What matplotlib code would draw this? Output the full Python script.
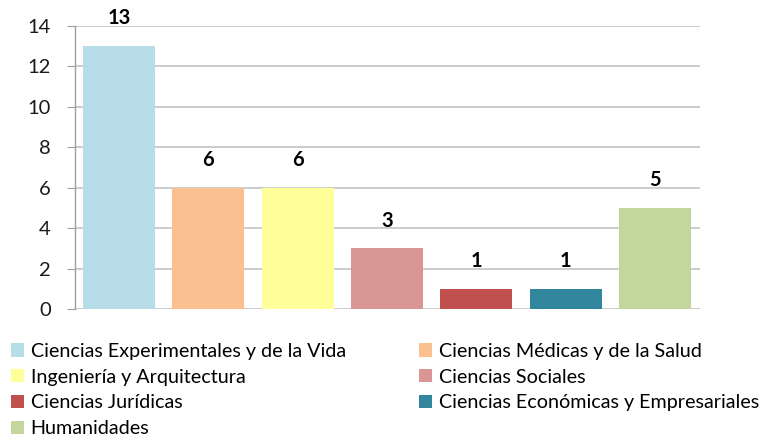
import matplotlib
matplotlib.use("Agg")
import matplotlib.pyplot as plt
from matplotlib.patches import Patch

categories = ["Ciencias Experimentales y de la Vida", "Ciencias Médicas y de la Salud",
              "Ingeniería y Arquitectura", "Ciencias Sociales", "Ciencias Jurídicas",
              "Ciencias Económicas y Empresariales", "Humanidades"]
values = [13, 6, 6, 3, 1, 1, 5]
colors = ["#b7dde8", "#fac090", "#ffff99", "#d99694", "#c0504d", "#31859c", "#c3d69b"]
yticks = [0, 2, 4, 6, 8, 10, 12, 14]

plt.rcParams['font.family'] = ['Lato', 'DejaVu Sans']

W, H = 770, 438
fig = plt.figure(figsize=(W/100, H/100), dpi=100)
ax = fig.add_axes([74.5/W, 1-309/H, 625/W, 283/H])

x = list(range(len(values)))
bars = ax.bar(x, values, width=0.806, color=colors, zorder=3)
ax.set_xlim(-0.5, len(values)-0.5)
ax.set_ylim(0, 14)
ax.set_yticks(yticks)
ax.set_xticks([])
ax.grid(axis='y', color='#cccccc', linewidth=1.4, zorder=0)
for s in ['top', 'right', 'bottom']:
    ax.spines[s].set_visible(False)
ax.spines['left'].set_color('#a0a0a0')
ax.spines['left'].set_linewidth(1.0)
ax.tick_params(axis='y', length=6, color='#a0a0a0', labelsize=14.5, pad=11, labelcolor='#1a1a1a')

for xi, v in zip(x, values):
    ax.annotate(str(v), (xi, v), xytext=(0, 20), textcoords='offset points',
                ha='center', va='center', fontsize=14.5, fontweight='bold', color='black')

handles = [Patch(facecolor=c, edgecolor='none') for c in colors]
col1 = [0, 2, 4, 6]
col2 = [1, 3, 5]
common = dict(frameon=False, fontsize=14.2, handlelength=0.65, handleheight=0.65,
              handletextpad=0.35, labelspacing=0.44, borderaxespad=0, borderpad=0)
fig.legend([handles[i] for i in col1], [categories[i] for i in col1],
           loc='upper left', bbox_to_anchor=(11/W, 1-343/H), **common)
fig.legend([handles[i] for i in col2], [categories[i] for i in col2],
           loc='upper left', bbox_to_anchor=(419/W, 1-343/H), **common)

fig.savefig("out.png", dpi=100)
